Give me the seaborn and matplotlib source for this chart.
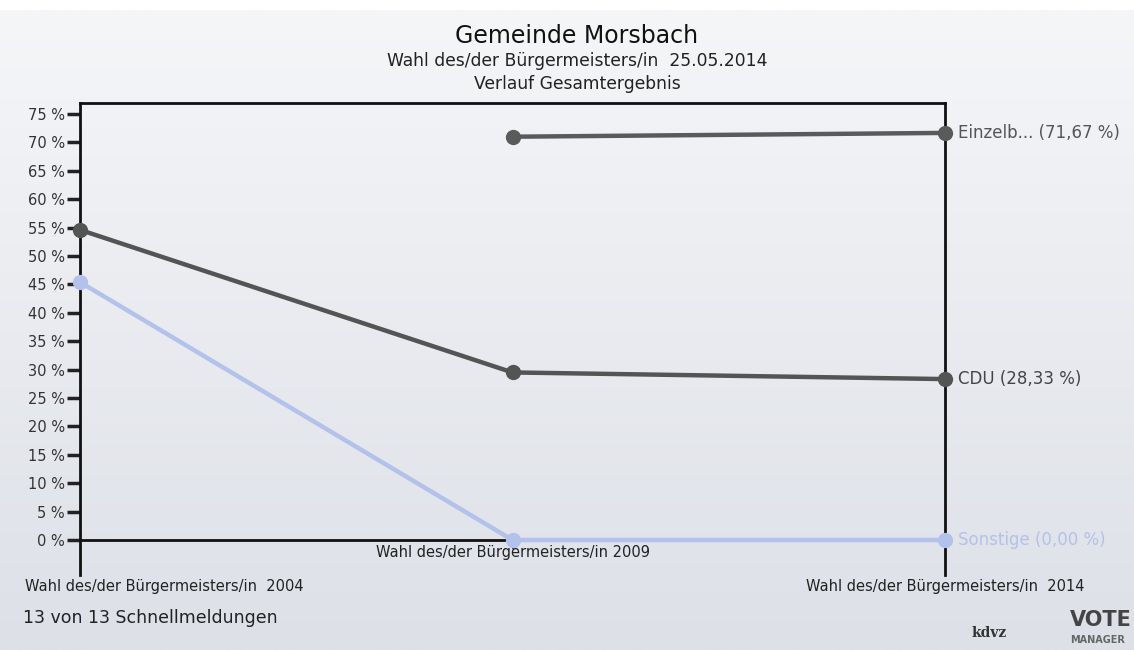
import numpy as np
import pandas as pd
import seaborn as sns
import matplotlib.pyplot as plt

# data
wahlen = ['Wahl des/der Bürgermeisters/in  2004',
          'Wahl des/der Bürgermeisters/in 2009',
          'Wahl des/der Bürgermeisters/in  2014']
einzelbewerber = [np.nan, 71.0, 71.67]
cdu = [54.6, 29.5, 28.33]
sonstige = [45.4, 0.0, 0.0]
end_labels = ['Einzelb... (71,67 %)', 'CDU (28,33 %)', 'Sonstige (0,00 %)']
y_ticks = list(range(0, 80, 5))

df = pd.DataFrame({
    'pos': [0, 1, 2] * 3,
    'wert': einzelbewerber + cdu + sonstige,
    'partei': ['Einzelbewerber'] * 3 + ['CDU'] * 3 + ['Sonstige'] * 3,
})
df = df.dropna()

colors = {'Einzelbewerber': '#5a5a5a', 'CDU': '#545454', 'Sonstige': '#b3c2ea'}
label_colors = ['#555555', '#444444', '#b3c2ea']

sns.set_style('white')
plt.rcParams['font.family'] = ['DejaVu Sans']

fig = plt.figure(figsize=(11.34, 6.5), dpi=100)

# light grey gradient background
bg = fig.add_axes([0, 0, 1, 1], zorder=-10)
grad = np.linspace(0, 1, 256).reshape(-1, 1)
bg.imshow(grad, aspect='auto', cmap=sns.blend_palette(['#f5f6f8', '#dde0e7'], as_cmap=True),
          extent=[0, 1, 0, 1 - 10 / 650], origin='upper')
bg.set_xlim(0, 1)
bg.set_ylim(0, 1)
bg.axis('off')

ax = fig.add_axes([80 / 1134, 1 - 575 / 650, 865 / 1134, 472 / 650])
ax.patch.set_alpha(0)

sns.lineplot(data=df, x='pos', y='wert', hue='partei', palette=colors,
             marker='o', markersize=11, markeredgewidth=0, linewidth=3.2,
             legend=False, ax=ax, zorder=5, clip_on=False)

px = 5 / 28.4  # percent per pixel
ax.set_xlim(0, 2)
ax.set_ylim(-35 * px, (540 - 103) * px)
ax.axhline(0, color='#111111', linewidth=2, zorder=3)
ax.plot([1, 1], [0, -8 * px], color='#111111', linewidth=1.5)

for s in ['left', 'right', 'top']:
    ax.spines[s].set_color('#111111')
    ax.spines[s].set_linewidth(2)
ax.spines['bottom'].set_visible(False)

ax.set_yticks(y_ticks)
ax.set_yticklabels([f'{t} %' for t in y_ticks], fontsize=10.5, color='#333333')
ax.tick_params(axis='y', direction='out', length=9.5, width=2.5, color='#222222', pad=1.5, left=True)
ax.set_xticks([])
ax.set_xlabel('')
ax.set_ylabel('')

# category labels
ax.text(1, -13 * px, wahlen[1], ha='center', va='center', fontsize=10.5, color='#222222')
ax.text(2, -46 * px, wahlen[2], ha='center', va='center', fontsize=10.5, color='#222222', clip_on=False)
fig.text(25 / 1134, 1 - 586 / 650, wahlen[0], ha='left', va='center', fontsize=10.5, color='#222222')

# end labels
last = [einzelbewerber[-1], cdu[-1], sonstige[-1]]
for v, lab, c in zip(last, end_labels, label_colors):
    ax.annotate(lab, xy=(2, v), xytext=(9, 0), textcoords='offset points',
                ha='left', va='center', fontsize=12, color=c, annotation_clip=False)

fig.text(577 / 1134, 1 - 36 / 650, 'Gemeinde Morsbach', ha='center', va='center', fontsize=17, color='#111111')
fig.text(577 / 1134, 1 - 61 / 650, 'Wahl des/der Bürgermeisters/in  25.05.2014', ha='center', va='center', fontsize=12.3, color='#222222')
fig.text(577 / 1134, 1 - 84 / 650, 'Verlauf Gesamtergebnis', ha='center', va='center', fontsize=12.3, color='#222222')
fig.text(23 / 1134, 1 - 618 / 650, '13 von 13 Schnellmeldungen', ha='left', va='center', fontsize=12.5, color='#222222')

# logo texts
fig.text(972 / 1134, 1 - 633 / 650, 'kdvz', ha='left', va='center', fontsize=10, fontweight='bold', color='#333333', family='DejaVu Serif')
fig.text(1070 / 1134, 1 - 620 / 650, 'VOTE', ha='left', va='center', fontsize=15, fontweight='bold', color='#444444')
fig.text(1070 / 1134, 1 - 640 / 650, 'MANAGER', ha='left', va='center', fontsize=7, fontweight='bold', color='#666666')

fig.savefig('out.png', dpi=100)
